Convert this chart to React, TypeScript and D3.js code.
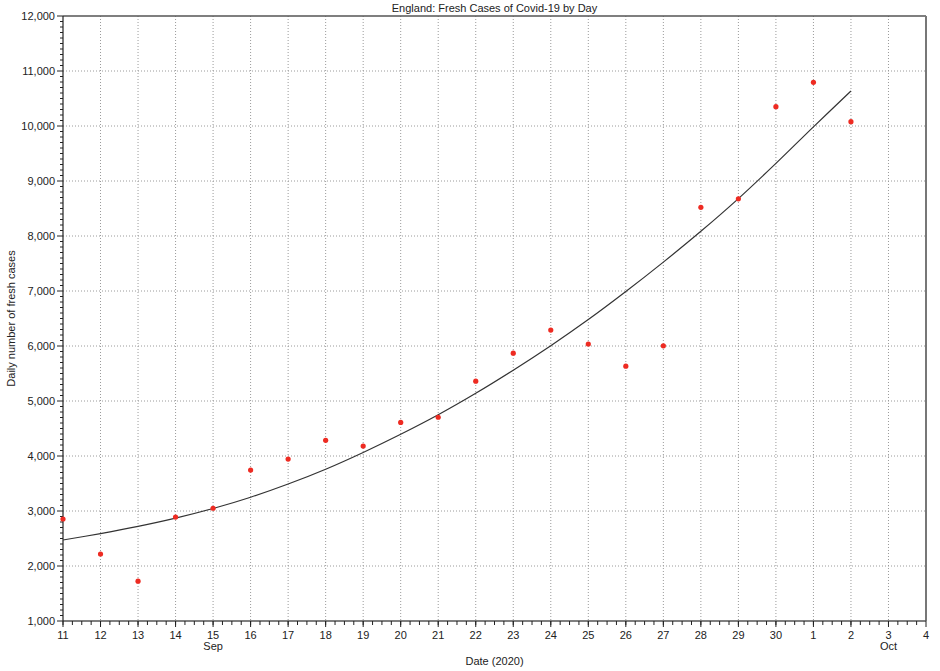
import React from "react";
import * as d3 from "d3";

const dates: string[] = [
  "2020-09-11","2020-09-12","2020-09-13","2020-09-14","2020-09-15","2020-09-16",
  "2020-09-17","2020-09-18","2020-09-19","2020-09-20","2020-09-21","2020-09-22",
  "2020-09-23","2020-09-24","2020-09-25","2020-09-26","2020-09-27","2020-09-28",
  "2020-09-29","2020-09-30","2020-10-01","2020-10-02",
];
const cases: number[] = [
  2855, 2218, 1725, 2890, 3050, 3745, 3945, 4285, 4180, 4610, 4705, 5360,
  5870, 6290, 6036, 5633, 6003, 8522, 8676, 10352, 10795, 10078,
];
const trend: number[] = [
  2473, 2590, 2720, 2870, 3045, 3250, 3490, 3760, 4065, 4395, 4750, 5140,
  5560, 6005, 6480, 6990, 7525, 8085, 8680, 9320, 9985, 10636,
];
const yTicks: number[] = [1000, 2000, 3000, 4000, 5000, 6000, 7000, 8000, 9000, 10000, 11000, 12000];
const monthLabels: { date: string; label: string }[] = [
  { date: "2020-09-15", label: "Sep" },
  { date: "2020-10-03", label: "Oct" },
];
const xStart = "2020-09-11";
const xEnd = "2020-10-04";
const title = "England: Fresh Cases of Covid-19 by Day";
const xTitle = "Date (2020)";
const yTitle = "Daily number of fresh cases";

const W = 940, H = 671;
const M = { left: 63, right: 926, top: 16, bottom: 621 };
const font = "'Liberation Sans', Arial, Helvetica, sans-serif";

const parse = (s: string) => new Date(s + "T00:00:00Z");

export default function App() {
  const x = d3.scaleUtc().domain([parse(xStart), parse(xEnd)]).range([M.left, M.right]);
  const y = d3.scaleLinear().domain([1000, 12000]).range([M.bottom, M.top]);

  const dayTicks = d3.utcDay.range(parse(xStart), d3.utcDay.offset(parse(xEnd), 1));
  const minorX = d3.utcHour.every(6)!.range(parse(xStart), parse(xEnd));
  const minorY = d3.range(1000, 12001, 100);
  const fmt = d3.format(",");

  const line = d3
    .line<number>()
    .x((_, i) => x(parse(dates[i])))
    .y((d) => y(d))
    .curve(d3.curveCatmullRom.alpha(0.5));

  return (
    <svg width={W} height={H} style={{ position: "absolute", left: 0, top: 0, background: "#fff" }} fontFamily={font}>
      {/* grid */}
      <g stroke="#9a9a9a" strokeWidth={1} strokeDasharray="1,2">
        {dayTicks.slice(1, -1).map((d, i) => (
          <line key={"gx" + i} x1={x(d)} x2={x(d)} y1={M.top} y2={M.bottom} />
        ))}
        {yTicks.slice(1, -1).map((v) => (
          <line key={"gy" + v} x1={M.left} x2={M.right} y1={y(v)} y2={y(v)} />
        ))}
      </g>

      {/* frame */}
      <line x1={M.left} x2={M.right} y1={M.top} y2={M.top} stroke="#555" strokeWidth={1.5} />
      <line x1={M.right} x2={M.right} y1={M.top} y2={M.bottom} stroke="#777" strokeWidth={2} />
      <line x1={M.left} x2={M.right} y1={M.bottom} y2={M.bottom} stroke="#555" strokeWidth={1.5} />
      <line x1={M.left} x2={M.left} y1={M.top} y2={M.bottom} stroke="#222" strokeWidth={1.2} />

      {/* y ticks */}
      <g stroke="#222" strokeWidth={1}>
        {minorY.map((v) => (
          <line key={"my" + v} x1={v % 1000 === 0 ? M.left - 6 : M.left - 3} x2={M.left} y1={y(v)} y2={y(v)} />
        ))}
      </g>
      <g fontSize={11} fill="#222" textAnchor="end">
        {yTicks.map((v) => (
          <text key={"ty" + v} x={M.left - 8} y={y(v) + 4}>{fmt(v)}</text>
        ))}
      </g>

      {/* x ticks */}
      <g stroke="#222" strokeWidth={1}>
        {minorX.map((d, i) => (
          <line key={"mx" + i} x1={x(d)} x2={x(d)} y1={M.bottom} y2={M.bottom + 4} />
        ))}
        {dayTicks.map((d, i) => (
          <line key={"dx" + i} x1={x(d)} x2={x(d)} y1={M.bottom} y2={M.bottom + 6} />
        ))}
      </g>
      <g fontSize={11} fill="#222" textAnchor="middle">
        {dayTicks.map((d, i) => (
          <text key={"tx" + i} x={x(d)} y={M.bottom + 18}>{d.getUTCDate()}</text>
        ))}
        {monthLabels.map((m) => (
          <text key={m.label} x={x(parse(m.date))} y={M.bottom + 29}>{m.label}</text>
        ))}
      </g>

      {/* trend */}
      <path d={line(trend) || ""} fill="none" stroke="#333" strokeWidth={1.2} />

      {/* points */}
      <g fill="#ee2b22">
        {cases.map((v, i) => (
          <circle key={"p" + i} cx={x(parse(dates[i]))} cy={y(v)} r={2.6} />
        ))}
      </g>

      {/* titles */}
      <text x={(M.left + M.right) / 2} y={12} fontSize={11} fill="#222" textAnchor="middle">{title}</text>
      <text x={(M.left + M.right) / 2} y={665} fontSize={11} fill="#222" textAnchor="middle">{xTitle}</text>
      <text transform={`translate(15,${(M.top + M.bottom) / 2}) rotate(-90)`} fontSize={11} fill="#222" textAnchor="middle">{yTitle}</text>
    </svg>
  );
}
